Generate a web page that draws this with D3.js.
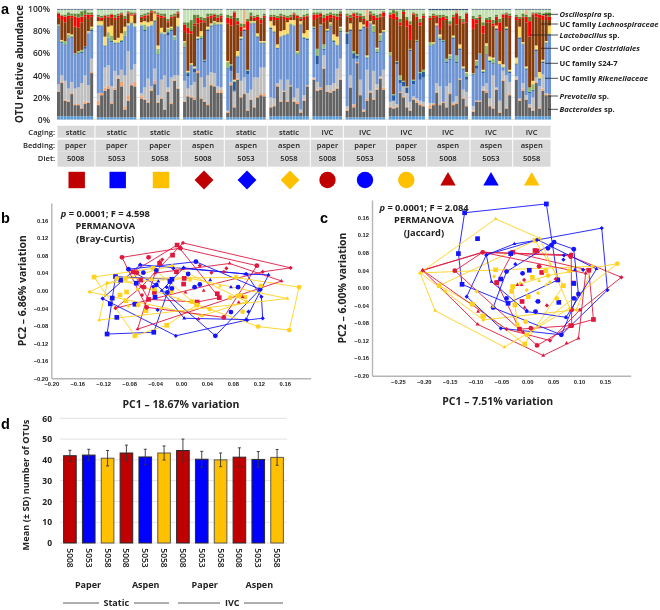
<!DOCTYPE html>
<html>
<head>
<meta charset="utf-8">
<script src="https://cdn.jsdelivr.net/npm/d3@7"></script>
<style>
  html, body { margin: 0; background: #fff; }
  svg { display: block; filter: blur(0.3px); }
  text { font-family: "Open Sans", "Liberation Sans", sans-serif; fill: #222; }
</style>
</head>
<body>
<div id="chart"></div>
<script>
// panel a: groups
const caging = ["static","static","static","static","static","static","IVC","IVC","IVC","IVC","IVC","IVC"];
const bedding = ["paper","paper","paper","aspen","aspen","aspen","paper","paper","paper","aspen","aspen","aspen"];
const diet = ["5008","5053","5058","5008","5053","5058","5008","5053","5058","5008","5053","5058"];
const groupColor = ["#C00000","#0000FF","#FFC000","#C00000","#0000FF","#FFC000","#C00000","#0000FF","#FFC000","#C00000","#0000FF","#FFC000"];
const groupShape = ["square","square","square","diamond","diamond","diamond","circle","circle","circle","triangle","triangle","triangle"];
const taxaLabels = [
  [["Oscillospira", true], [" sp.", false]],
  [["UC family ", false], ["Lachnospiraceae", true]],
  [["Lactobacillus", true], [" sp.", false]],
  [["UC order ", false], ["Clostridiales", true]],
  [["UC family S24-7", false]],
  [["UC family ", false], ["Rikenellaceae", true]],
  [["Prevotella", true], [" sp.", false]],
  [["Bacteroides", true], [" sp.", false]]
];

// one row per group, one value per sample (%)
const baseTop = [3,2,2,2,2,3,3,2,3,3,3,3];
const greyTop = [
  [25,33,17,16,23,13,13,10,14,15,42],
  [13,22,26,28,14,27,37,30,9,17,31,30],
  [19,18,15,26,32,15,19,9,25,14,35,28],
  [16,21,20,18,42,19,16,13,31,30,24,24],
  [6,31,11,36,20,23,8,18,11,20,22,21],
  [11,12,30,16,25,16,30,16,14,6,17,30],
  [36,26,27,46,25,24,26,28,36],
  [8,29,11,51,22,7,17,24,18,27,37,27],
  [11,10,11,24,20,11,8,18,15,13,12],
  [10,13,24,13,15,11,23,13,14,36,19,12],
  [7,16,16,26,24,12,10,27,6,35,10,22],
  [36,17,26,18,11,8,33,10,26,22,22]
];
const orange = [
  [1,1,1,1,1,1,1,1,2,1,1],
  [4,2,3,3,1,2,1,4,3,5,1,4],
  [2,1,1,1,3,1,1,1,1,1,1,1],
  [1,1,1,2,2,1,1,1,1,1,1,3],
  [1,2,1,1,1,1,1,1,1,1,2,2],
  [1,1,1,1,1,1,1,1,2,1,1,1],
  [1,1,2,1,1,1,1,1,1],
  [1,1,2,1,1,1,2,1,1,1,1,2],
  [1,1,1,1,1,1,1,1,2,1,1],
  [3,1,1,1,1,1,1,1,1,1,1,1],
  [1,1,1,1,2,1,1,1,1,1,1,1],
  [1,1,2,1,1,1,1,1,2,1,1]
];
const paleTop = [
  [32,40,35,28,34,28,29,33,40,31,55],
  [24,24,47,49,30,44,40,45,40,62,45,50],
  [24,29,37,30,46,22,36,40,29,38,40,40],
  [35,28,31,34,43,38,29,40,43,42,30,29],
  [8,34,25,42,35,38,24,27,38,38,47,47],
  [20,19,33,36,26,36,31,20,28,9,22,31],
  [38,34,29,58,31,31,33,46,55],
  [12,40,14,52,36,9,45,26,44,32,39,45],
  [16,17,14,25,30,24,16,21,19,17,16],
  [15,15,33,30,16,30,33,16,21,37,27,25],
  [12,17,17,30,33,19,40,29,17,44,40,34],
  [39,19,33,22,14,20,38,30,41,24,23]
];
const blueTop = [
  [85,69,67,74,74,58,59,60,64,78,80],
  [84,85,66,74,70,68,68,70,76,85,86,84],
  [85,80,84,85,88,58,78,76,76,80,72,84],
  [65,39,48,43,72,73,52,80,84,85,85,85],
  [46,44,26,56,72,80,41,86,86,74,68,68],
  [82,78,64,75,75,76,85,85,58,85,73,72],
  [82,50,84,63,79,84,70,66,79],
  [68,80,55,55,80,83,55,86,78,60,70,78],
  [57,16,50,33,25,24,62,32,70,36,38],
  [66,67,84,72,70,51,54,73,51,63,45,36],
  [40,46,58,42,58,52,50,81,49,46,81,42],
  [49,73,67,45,24,26,62,36,51,68,76]
];
const navy = [
  [0,1,1,0,1,1,1,1,2,0,1],
  [1,0,1,0,1,1,1,1,0,0,1,0],
  [0,1,0,0,1,1,0,1,3,1,0,0],
  [1,3,1,3,1,1,1,1,1,1,1,1],
  [1,5,8,1,1,1,3,1,1,1,1,1],
  [1,1,1,0,1,1,1,0,1,1,1,1],
  [1,8,1,1,1,1,1,1,1],
  [10,1,5,3,1,1,1,1,1,1,1,1],
  [1,5,2,3,4,5,1,3,1,6,5],
  [1,1,1,1,1,1,1,1,1,1,1,3],
  [1,3,1,1,1,1,1,1,1,1,1,1],
  [1,1,1,1,1,1,1,1,1,1,1]
];
const green = [
  [1,1,3,3,1,1,2,2,0,1,2],
  [1,1,0,5,5,1,1,1,4,1,1,1],
  [1,5,1,1,1,5,1,1,3,2,3,1],
  [4,1,1,1,1,2,1,1,1,2,1,1],
  [5,1,1,1,1,1,1,1,1,1,1,1],
  [1,1,0,1,1,1,1,1,2,1,1,1],
  [1,6,1,4,1,2,1,1,3],
  [1,1,2,1,1,1,1,1,6,3,6,1],
  [3,1,1,4,1,1,1,1,1,1,2],
  [3,1,1,2,1,3,3,1,6,1,1,3],
  [1,4,1,1,8,1,4,1,0,1,1,1],
  [1,1,1,1,4,5,1,1,1,1,1]
];
const yellow = [
  [0,1,0,1,1,0,0,0,0,1,1],
  [3,3,8,5,9,2,4,6,4,1,6,2],
  [2,3,3,3,6,3,4,1,1,1,1,7],
  [1,1,1,1,1,4,0,2,1,1,1,1],
  [1,0,1,4,1,1,0,1,1,2,1,1],
  [5,5,3,4,4,10,3,4,1,2,3,7],
  [0,0,0,0,1,1,5,7,1],
  [0,5,0,0,6,1,1,1,1,1,1,1],
  [0,0,0,0,0,0,0,0,0,0,0],
  [0,1,1,2,0,0,1,1,0,3,1,1],
  [0,1,0,1,2,3,1,2,3,2,1,1],
  [5,9,1,1,0,3,3,5,1,1,7]
];
const brownTop = [
  [92,90,88,91,92,84,83,88,93,91,93],
  [92,90,92,92,92,90,92,95,90,96,92,95],
  [92,92,94,97,95,93,92,92,88,92,93,96],
  [80,78,78,85,87,88,88,92,92,93,90,92],
  [87,85,92,86,80,85,81,93,90,90,87,92],
  [90,90,90,93,91,90,92,95,92,90,90,93],
  [90,92,93,88,90,92,92,90,93],
  [93,90,93,92,93,90,92,95,90,90,92,93],
  [92,90,90,85,93,84,72,95,90,85,92],
  [90,92,93,82,90,90,85,92,92,90,87,88],
  [82,87,92,78,88,88,85,90,80,92,95,92],
  [90,90,92,88,75,95,93,92,90,93,90]
];
const red = [
  [4,4,5,3,2,9,9,5,2,4,2],
  [1,2,2,1,3,2,2,1,1,1,1,1],
  [1,2,1,1,1,2,2,1,1,1,1,1],
  [6,5,2,2,5,2,1,1,2,2,2,2],
  [5,6,5,3,4,1,8,1,2,3,3,2],
  [3,3,2,1,2,2,1,1,2,1,3,1],
  [5,3,3,4,4,3,2,3,3],
  [1,2,3,2,1,1,6,1,4,2,1,4],
  [3,5,3,3,2,6,14,1,3,3,2],
  [2,2,1,10,3,1,1,1,10,1,1,8],
  [9,3,1,7,2,2,2,3,8,3,1,2],
  [3,1,1,5,14,1,3,3,4,2,3]
];
const olive = [
  [1,1,2,3,2,3,4,5,4,2,2],
  [2,2,1,2,1,3,2,1,3,1,2,1],
  [2,2,2,1,1,2,2,3,2,2,2,1],
  [2,5,10,8,3,3,3,3,2,1,3,2],
  [3,3,1,3,3,2,2,3,2,2,2,2],
  [2,2,2,2,2,2,2,1,1,2,2,2],
  [2,2,1,3,2,2,2,3,2],
  [2,3,1,3,2,3,1,2,2,3,3,1],
  [2,3,5,3,2,3,3,1,3,3,2],
  [2,2,1,3,2,3,3,2,1,3,3,1],
  [3,2,2,3,2,3,3,2,3,1,1,2],
  [2,2,3,2,4,1,1,2,2,2,4]
];
// samples with a peach block near the top: [group, sample, %]
const peachBlocks = [[4,5,13],[7,6,9],[11,3,4],[9,8,2]];
// thin dark cap at the very top of each sample in a group
const capTop = [0.6,0.6,0.6,0.6,0.6,0.6,0.6,0.6,0.6,1,0.6,0.6];
const taxaColor = {
  base: "#5B9BD5", grey: "#636363", orange: "#F4A26B", pale: "#BFBFBF", blue: "#6E94D3",
  navy: "#2A5A9E", green: "#8DB96A", yellow: "#FFD966", brown: "#843C0C", red: "#FF0000",
  olive: "#5E8A35", light: "#C5E0B4", peach: "#F4B183", cap: "#2F5075"
};

// panel b, PCA coordinates [PC1, PC2]; hull points in outline order
const bHull = [
  [[-.006,.104],[.059,-.016],[.025,-.026],[-.050,-.020],[-.074,.043]],
  [[-.101,.032],[-.114,-.099],[-.042,-.095],[-.014,.026]],
  [[-.134,.031],[-.071,-.103],[-.022,-.079],[.024,-.033],[-.043,.051]],
  [[.003,.109],[.169,.052],[.126,.043],[-.101,-.040],[-.061,.009]],
  [[-.121,-.018],[-.008,-.103],[.102,-.067],[.126,-.063],[.124,-.014],[.101,.038],[-.063,.059]],
  [[-.141,-.003],[-.114,.017],[-.014,.057],[.101,-.025],[.032,-.057]],
  [[-.091,.076],[-.001,.097],[.117,.057],[.066,-.061],[-.053,-.038]],
  [[.053,-.103],[.122,.003],[.023,.066],[-.081,.049],[-.038,.013]],
  [[.182,.008],[.167,-.090],[.119,-.082],[.044,-.042],[-.099,.028],[.085,.030]],
  [[-.067,-.088],[.155,.022],[.075,.062],[-.040,.040]],
  [[.135,.036],[.100,-.066],[.005,-.063],[-.030,.000],[.004,.052],[.099,.038]],
  [[-.126,-.067],[.164,-.018],[.014,.028],[-.114,.017]]
];
const bInner = [
  [[-.013,.081],[-.033,.062],[.056,-.007],[-.041,-.004],[-.007,.043],[.005,.028],[.004,.015],[-.062,.024]],
  [[-.099,-.061],[-.106,-.017],[-.109,-.030],[-.093,.024],[-.069,.017],[-.040,-.015],[-.071,-.031],[-.017,.021]],
  [[-.085,-.023],[-.084,-.003],[-.094,-.010],[-.086,.028],[-.054,-.046],[-.041,.004],[-.015,-.002],[.017,-.025]],
  [[-.060,-.010],[.029,.057],[.070,.051],[.066,.043],[.047,.041],[-.033,.066],[-.029,.071]],
  [[-.036,-.044],[-.072,-.030],[-.043,.009],[-.022,.008],[-.012,.051],[.004,.052],[.104,-.048]],
  [[-.081,-.035],[-.067,.003],[-.045,.026],[-.030,-.040],[.014,.024]],
  [[-.050,.076],[-.057,.008],[-.068,.041]],
  [[-.058,.041],[-.038,.046],[.011,.038],[-.014,.005],[.029,.014],[.021,.008],[.088,.008],[.077,-.049],[-.021,-.004]],
  [[.076,-.016],[.087,-.012],[.092,-.011],[.099,-.015],[.123,.011],[.095,-.048],[-.066,-.033]],
  [[.027,-.065],[.089,-.027],[.095,-.015],[.007,-.004],[.035,.000]],
  [[.077,.008],[.045,.024],[-.063,.059],[-.035,.021]],
  [[.032,-.057],[-.004,-.020],[.060,.010]]
];

// panel c
const cHull = [
  [[-.028,.081],[.119,.040],[.128,-.072],[.084,-.086],[-.015,-.094],[-.059,.012]],
  [[-.121,.171],[.037,.191],[.059,.018],[-.037,-.035],[-.126,.008],[-.133,.078]],
  [[-.170,.005],[.015,.108],[.070,.005],[-.005,-.128],[-.106,-.037]],
  [[-.202,.040],[-.086,.081],[.082,.073],[.182,.024],[.102,-.050],[.044,-.120],[-.040,-.094]],
  [[-.117,-.020],[-.051,-.092],[.066,-.107],[.155,-.005],[.144,.136],[.019,.109],[-.079,.075]],
  [[-.207,.034],[.126,.049],[.095,-.050],[-.085,-.073],[-.159,-.008]],
  [[-.140,.039],[.019,-.131],[.086,-.086],[.085,.075],[-.086,.081]],
  [[.052,.104],[.090,.088],[.099,-.014],[.066,-.107],[-.066,-.045],[-.040,.037]],
  [[.174,.055],[.040,.028],[-.028,.003],[-.019,-.084],[-.001,-.107]],
  [[-.202,.040],[-.096,-.083],[.031,-.154],[.099,-.115],[.113,.033],[-.086,.081]],
  [[-.079,.075],[-.025,.100],[.021,.109],[.134,.043],[.075,-.067],[-.001,-.054],[-.069,.014]],
  [[-.061,.157],[.024,.113],[.082,-.046],[-.044,-.135],[-.178,-.052],[-.207,.034]]
];
const cInner = [
  [[.015,.085],[.028,.035],[.089,.011],[-.010,-.031],[.019,.084]],
  [[-.096,.112],[-.032,.078],[.004,.040],[-.051,.020],[.061,-.033],[.090,.010]],
  [[-.061,.041],[.036,.039],[.010,.024],[-.028,.003],[-.030,-.008],[.002,-.020],[-.024,-.039],[-.086,-.064]],
  [[-.006,.018],[.038,-.040],[.055,.020]],
  [[-.023,.054],[.075,-.067],[.108,.041],[.071,.074],[.070,.064],[.019,-.031],[-.001,-.052]],
  [[-.098,-.008],[-.064,.026],[-.001,-.005],[.044,.013],[.021,-.012]],
  [[.023,.049],[.007,-.092],[-.059,.012],[.086,-.050],[.084,.071]],
  [[.040,.090],[.047,.097],[.090,-.024],[-.009,.033],[-.040,-.024],[.016,-.054],[.021,-.031]],
  [[.081,.039],[.057,-.024],[-.003,-.077],[-.084,-.065],[-.107,-.037]],
  [[.076,-.126],[-.019,.007],[-.011,.007],[-.005,-.045],[-.008,-.100],[-.095,-.054]],
  [[.092,.041]],
  [[-.014,.011],[.023,.016],[.037,.007],[-.066,-.043]]
];

// panel d
const otuMean = [42,42.3,40.8,43.3,41.4,43.3,44.5,40.3,40,41.3,40.2,41.2];
const otuSd = [2.6,2.8,3.7,3.8,3.7,3.4,5.5,3.8,3.3,4.5,3.8,3.8];
const beddingLabels = ["Paper","Aspen","Paper","Aspen"];
const housingLabels = ["Static","IVC"];

const svg = d3.select("#chart").append("svg")
  .attr("width", 660)
  .attr("height", 610);

const symbolOf = {
  square: d3.symbolSquare,
  circle: d3.symbolCircle,
  triangle: d3.symbolTriangle2,
  diamond: d3.symbolSquare
};

function marker(shape, area) {
  return d3.symbol().type(symbolOf[shape]).size(area)();
}

function panelLetter(text, x, y) {
  svg.append("text")
    .attr("x", x).attr("y", y)
    .attr("font-size", 14.5).attr("font-weight", 700)
    .style("font-family", "Liberation Sans")
    .style("fill", "#000")
    .text(text);
}

panelLetter("a", 1, 13.5);
panelLetter("b", 1, 223);
panelLetter("c", 320, 223);
panelLetter("d", 1, 429);

// ---------- panel a ----------
const sampleIds = [];
const table = [];
greyTop.forEach((col, g) => {
  col.forEach((_, s) => {
    const id = `${g}-${s}`;
    sampleIds.push(id);
    const peach = peachBlocks.filter(p => p[0] === g && p[1] === s).reduce((a, p) => a + p[2], 0);
    const row = { id };
    row.base = baseTop[g];
    row.grey = greyTop[g][s] - baseTop[g];
    row.orange = orange[g][s];
    row.pale = Math.max(0, paleTop[g][s] - greyTop[g][s] - orange[g][s]);
    row.blue = Math.max(0, blueTop[g][s] - Math.max(paleTop[g][s], greyTop[g][s] + orange[g][s]));
    row.navy = navy[g][s];
    row.green = green[g][s];
    row.yellow = yellow[g][s];
    row.brown = Math.max(0, brownTop[g][s] - blueTop[g][s] - navy[g][s] - green[g][s] - yellow[g][s]);
    row.red = red[g][s];
    row.olive = olive[g][s];
    row.peach = peach;
    row.cap = capTop[g];
    const used = d3.sum(["base","grey","orange","pale","blue","navy","green","yellow","brown","red","olive","peach","cap"], k => row[k]);
    // readings can add up past 100, the brown band gives way so the bar stays at 100%
    row.brown = Math.max(0, row.brown - Math.max(0, used - 100));
    row.light = Math.max(0, 100 - used);
    table.push(row);
  });
  if (g < greyTop.length - 1) sampleIds.push(`gap${g}`);
});

const barX = d3.scaleBand().domain(sampleIds).range([57, 551]).paddingInner(0.1);
const barY = d3.scaleLinear().domain([0, 100]).range([119.5, 9]);
const stackOrder = ["base","grey","orange","pale","blue","navy","green","yellow","brown","red","olive","peach","light","cap"];
const stacked = d3.stack().keys(stackOrder)(table);

const barPanel = svg.append("g");
barPanel.append("g")
  .selectAll("line")
  .data(d3.range(0, 101, 20))
  .join("line")
  .attr("x1", 57).attr("x2", 551)
  .attr("y1", d => barY(d)).attr("y2", d => barY(d))
  .attr("stroke", "#dedede").attr("stroke-width", 0.8);

barPanel.selectAll("g.layer")
  .data(stacked)
  .join("g")
  .attr("class", "layer")
  .attr("fill", d => taxaColor[d.key])
  .selectAll("rect")
  .data(d => d)
  .join("rect")
  .attr("x", d => barX(d.data.id))
  .attr("width", barX.bandwidth())
  .attr("y", d => barY(d[1]))
  .attr("height", d => barY(d[0]) - barY(d[1]));

const barAxis = d3.axisLeft(barY).tickValues(d3.range(0, 101, 20)).tickFormat(d => d + "%").tickSize(0).tickPadding(7);
const barAxisG = barPanel.append("g").attr("transform", "translate(57,0)").call(barAxis);
barAxisG.select(".domain").remove();
barAxisG.selectAll("text").attr("font-size", 8.5).attr("font-weight", 600);

svg.append("text")
  .attr("transform", "translate(19.5,64) rotate(-90)")
  .attr("text-anchor", "middle").attr("dy", "0.35em")
  .attr("font-size", 9.8).attr("font-weight", 700)
  .text("OTU relative abundance");

// leader lines and taxa names
const taxaY = [14.3, 24, 35, 48.3, 63.3, 78.3, 96, 109.3];
const leaderStart = [543, 541, 530, 541, 545, 545, 548, 548];
const taxaG = svg.append("g");
taxaG.selectAll("line")
  .data(taxaY)
  .join("line")
  .attr("x1", (d, i) => leaderStart[i]).attr("x2", 558)
  .attr("y1", d => d).attr("y2", d => d)
  .attr("stroke", "#222").attr("stroke-width", 0.8);
taxaG.selectAll("text")
  .data(taxaLabels)
  .join("text")
  .attr("x", 559.5)
  .attr("y", (d, i) => taxaY[i] + 3)
  .attr("font-size", 7.6).attr("font-weight", 700)
  .selectAll("tspan")
  .data(d => d)
  .join("tspan")
  .attr("font-style", d => d[1] ? "italic" : "normal")
  .style("white-space", "pre")
  .text(d => d[0]);

// condition table
const cellEdges = [57, 95, 138.3, 181.3, 224.3, 267.3, 310.3, 343.3, 386.7, 426.7, 470, 512.7, 551];
const cellCenter = [75.7, 116.7, 160, 203, 246, 289, 327.5, 365, 406.3, 448, 491, 531.7];
const rows = [
  { label: "Caging:", values: caging, top: 125.7, h: 12, textY: 132.3 },
  { label: "Bedding:", values: bedding, top: 139.7, h: 12, textY: 145.7 },
  { label: "Diet:", values: diet, top: 151.7, h: 15, textY: 158.3 }
];
rows.forEach(r => {
  const rowG = svg.append("g");
  rowG.selectAll("rect")
    .data(r.values)
    .join("rect")
    .attr("x", (d, i) => cellEdges[i] + 0.5)
    .attr("width", (d, i) => cellEdges[i + 1] - cellEdges[i] - 1)
    .attr("y", r.top).attr("height", r.h)
    .attr("fill", "#D9D9D9");
  rowG.selectAll("text")
    .data(r.values)
    .join("text")
    .attr("x", (d, i) => cellCenter[i])
    .attr("y", r.textY)
    .attr("dy", "0.35em")
    .attr("text-anchor", "middle")
    .attr("font-size", 7.6)
    .attr("font-weight", 600)
    .text(d => d);
  rowG.append("text")
    .attr("x", 55).attr("y", r.textY).attr("dy", "0.35em")
    .attr("text-anchor", "end")
    .attr("font-size", 7.6).attr("font-weight", 600)
    .text(r.label);
});

// legend symbols
const legendArea = { square: 270, diamond: 178, circle: 211, triangle: 170 };
svg.append("g").selectAll("path")
  .data(groupShape)
  .join("path")
  .attr("d", d => marker(d, legendArea[d]))
  .attr("transform", (d, i) => `translate(${cellCenter[i] + (i < 6 ? 1 : 0)},${d === "triangle" ? 181 : 180})${d === "diamond" ? " rotate(45)" : ""}`)
  .attr("fill", (d, i) => groupColor[i]);

// ---------- panels b and c ----------
const scatterColor = ["#E0183F","#1414FF","#FFD21E","#E0183F","#1414FF","#FFD21E","#E0183F","#1414FF","#FFD21E","#E0183F","#1414FF","#FFD21E"];
const scatterArea = { square: 22, diamond: 9, circle: 18, triangle: 11 };

function drawScatter(opts) {
  const x = d3.scaleLinear().domain(opts.xDomain).range(opts.xRange);
  const y = d3.scaleLinear().domain([-0.2, 0.2]).range(opts.yRange);
  const g = svg.append("g");

  const xAxis = d3.axisBottom(x).tickValues(opts.xTicks).tickFormat(d3.format(".2f")).tickSize(0).tickPadding(4);
  const yAxis = d3.axisLeft(y).tickValues(d3.range(-0.2, 0.161, 0.04)).tickFormat(d => Math.abs(d) < 1e-6 ? "0.00" : d3.format(".2f")(d)).tickSize(0).tickPadding(3);
  const xG = g.append("g").attr("transform", `translate(0,${opts.yRange[0]})`).call(xAxis);
  const yG = g.append("g").attr("transform", `translate(${opts.xRange[0]},0)`).call(yAxis);
  [xG, yG].forEach(a => {
    a.select(".domain").attr("stroke", "#b5b5b5").attr("stroke-width", 1.4);
    a.selectAll("text").attr("font-size", 5.8).attr("font-weight", 700).style("font-family", "Liberation Sans");
  });

  const line = d3.line().x(d => x(d[0])).y(d => y(d[1])).curve(d3.curveLinearClosed);
  g.append("g").selectAll("path")
    .data(opts.hull)
    .join("path")
    .attr("d", line)
    .attr("fill", "none")
    .attr("stroke", (d, i) => scatterColor[i])
    .attr("stroke-width", 0.9);

  opts.hull.forEach((pts, i) => {
    g.append("g").selectAll("path")
      .data(pts.concat(opts.inner[i]))
      .join("path")
      .attr("d", marker(groupShape[i], scatterArea[groupShape[i]]))
      .attr("transform", d => `translate(${x(d[0])},${y(d[1])})${groupShape[i] === "diamond" ? " rotate(45)" : ""}`)
      .attr("fill", scatterColor[i]);
  });

  const note = g.append("g").attr("font-size", 9.3).attr("font-weight", 700).attr("text-anchor", "middle");
  const pLine = note.append("text").attr("x", opts.noteX).attr("y", opts.noteY[0]);
  pLine.append("tspan").attr("font-style", "italic").text("p");
  pLine.append("tspan").text(` = 0.0001; F = ${opts.fValue}`);
  note.append("text").attr("x", opts.noteX).attr("y", opts.noteY[1]).text("PERMANOVA");
  note.append("text").attr("x", opts.noteX).attr("y", opts.noteY[2]).text(opts.method);

  g.append("text")
    .attr("x", opts.xLabel[0]).attr("y", opts.xLabel[1])
    .attr("text-anchor", "middle").attr("dy", "0.35em")
    .attr("font-size", 10.5).attr("font-weight", 700)
    .text(opts.pc1);
  g.append("text")
    .attr("transform", `translate(${opts.yLabel[0]},${opts.yLabel[1]}) rotate(-90)`)
    .attr("text-anchor", "middle").attr("dy", "0.35em")
    .attr("font-size", 10.5).attr("font-weight", 700)
    .text(opts.pc2);
}

drawScatter({
  xDomain: [-0.2, 0.2], xRange: [51.3, 310.7], yRange: [378.3, 203],
  xTicks: d3.range(-0.2, 0.161, 0.04).map(d => Math.abs(d) < 1e-6 ? 0 : d),
  hull: bHull, inner: bInner,
  noteX: 105.3, noteY: [216.5, 228.5, 242], fValue: "4.598", method: "(Bray-Curtis)",
  xLabel: [181, 404], yLabel: [22.7, 290.7],
  pc1: "PC1 – 18.67% variation", pc2: "PC2 – 6.86% variation"
});

drawScatter({
  xDomain: [-0.3, 0.2], xRange: [372, 630.7], yRange: [375.7, 200],
  xTicks: [-0.25, -0.2, -0.15, -0.1, -0.05, 0, 0.05, 0.1, 0.15],
  hull: cHull, inner: cInner,
  noteX: 424, noteY: [210.5, 223, 236], fValue: "2.084", method: "(Jaccard)",
  xLabel: [497.7, 401], yLabel: [342.7, 288],
  pc1: "PC1 – 7.51% variation", pc2: "PC2 – 6.00% variation"
});

// ---------- panel d ----------
const otuX = d3.scaleBand().domain(d3.range(12)).range([60.5, 286.5]).paddingInner(0.33).paddingOuter(0.165);
const otuY = d3.scaleLinear().domain([0, 60]).range([543, 418.3]);
const otuG = svg.append("g");

otuG.selectAll("line.grid")
  .data(otuY.ticks(6))
  .join("line")
  .attr("class", "grid")
  .attr("x1", 60).attr("x2", 287)
  .attr("y1", d => otuY(d)).attr("y2", d => otuY(d))
  .attr("stroke", "#e2e2e2").attr("stroke-width", 1);

otuG.selectAll("rect")
  .data(otuMean)
  .join("rect")
  .attr("x", (d, i) => otuX(i))
  .attr("width", otuX.bandwidth())
  .attr("y", d => otuY(d))
  .attr("height", d => otuY(0) - otuY(d))
  .attr("fill", (d, i) => groupColor[i])
  .attr("stroke", (d, i) => i % 3 === 2 ? "#5f5a4a" : "#2b2b2b")
  .attr("stroke-width", 1);

const errG = otuG.append("g").attr("stroke", "#333").attr("stroke-width", 0.9);
otuMean.forEach((m, i) => {
  const cx = otuX(i) + otuX.bandwidth() / 2;
  errG.append("line").attr("x1", cx).attr("x2", cx).attr("y1", otuY(m - otuSd[i])).attr("y2", otuY(m + otuSd[i]));
  errG.append("line").attr("x1", cx - 1.5).attr("x2", cx + 1.5).attr("y1", otuY(m - otuSd[i])).attr("y2", otuY(m - otuSd[i]));
  errG.append("line").attr("x1", cx - 1.5).attr("x2", cx + 1.5).attr("y1", otuY(m + otuSd[i])).attr("y2", otuY(m + otuSd[i]));
});

const otuAxis = otuG.append("g")
  .attr("transform", "translate(52,0)")
  .call(d3.axisLeft(otuY).ticks(6).tickSize(0).tickPadding(0));
otuAxis.select(".domain").remove();
otuAxis.selectAll("text").attr("font-size", 8.5).attr("font-weight", 700);

otuG.selectAll("text.diet")
  .data(diet)
  .join("text")
  .attr("class", "diet")
  .attr("transform", (d, i) => `translate(${otuX(i) + otuX.bandwidth() / 2},558) rotate(90)`)
  .attr("text-anchor", "middle").attr("dy", "0.35em")
  .attr("font-size", 8.5).attr("font-weight", 600)
  .text(d => d);

svg.append("text")
  .attr("transform", "translate(26,485) rotate(-90)")
  .attr("text-anchor", "middle").attr("dy", "0.35em")
  .attr("font-size", 9.2).attr("font-weight", 700)
  .text("Mean (± SD) number of OTUs");

const beddingX = [88, 145.7, 204.7, 259.3];
otuG.selectAll("text.bed")
  .data(beddingLabels)
  .join("text")
  .attr("class", "bed")
  .attr("x", (d, i) => beddingX[i]).attr("y", 584.7).attr("dy", "0.35em")
  .attr("text-anchor", "middle")
  .attr("font-size", 9).attr("font-weight", 700)
  .text(d => d);

const housingX = [116.3, 232.3];
otuG.selectAll("text.house")
  .data(housingLabels)
  .join("text")
  .attr("class", "house")
  .attr("x", (d, i) => housingX[i]).attr("y", 602.7).attr("dy", "0.35em")
  .attr("text-anchor", "middle")
  .attr("font-size", 9).attr("font-weight", 700)
  .text(d => d);

const ruleSpans = [[63, 99], [134, 169], [178, 220], [244, 283]];
otuG.selectAll("line.rule")
  .data(ruleSpans)
  .join("line")
  .attr("class", "rule")
  .attr("x1", d => d[0]).attr("x2", d => d[1])
  .attr("y1", 603).attr("y2", 603)
  .attr("stroke", "#333").attr("stroke-width", 0.8);
</script>
</body>
</html>
